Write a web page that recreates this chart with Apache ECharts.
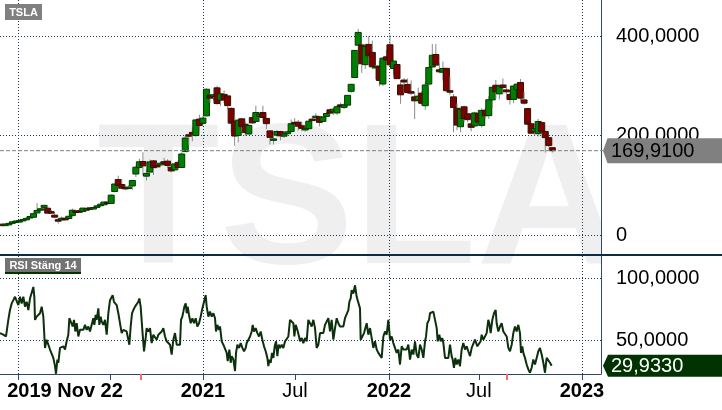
<!DOCTYPE html>
<html><head><meta charset="utf-8">
<script src="https://cdn.jsdelivr.net/npm/echarts@6/dist/echarts.min.js"></script>
<style>html,body{margin:0;padding:0;background:#fff}#c{width:722px;height:410px}</style>
</head><body><div id="c"></div>
<script>
const symbol = 'TSLA';
const rsiTitle = 'RSI Stäng 14';
// weekly candles, week 0 = week of 2019-11-25
const open = [
22.3,22.0,22.4,24.0,27.2,28.7,29.8,32.2,36.0,36.2,
44.9,51.2,56.0,54.3,47.4,40.4,31.3,31.0,34.0,33.7,
39.4,48.6,49.2,47.9,53.3,55.1,55.0,57.2,62.3,61.3,
66.6,64.0,88.0,111.9,102.0,96.2,96.2,99.0,123.0,136.0,
148.2,118.7,127.0,149.4,140.4,141.3,147.7,148.8,136.7,131.3,
146.5,136.2,168.0,201.9,206.7,200.3,233.3,224.8,239.8,281.3,
279.0,296.1,271.4,283.0,279.9,254.9,229.0,200.2,233.9,223.0,
203.4,236.3,228.6,238.6,246.5,234.8,209.6,191.1,201.0,208.2,
199.0,204.0,208.3,226.8,227.0,219.9,213.5,214.0,233.3,237.3,
237.8,228.7,238.8,252.0,248.0,245.7,261.9,256.8,261.4,289.1,
316.8,381.7,382.2,342.7,383.3,367.3,337.6,339.9,303.8,358.4,
382.6,335.0,342.9,301.9,311.7,303.0,288.4,278.0,271.3,285.4,
260.2,303.7,338.0,363.0,332.3,327.5,335.3,290.3,278.0,255.0,
218.0,258.0,244.0,223.8,219.6,244.0,220.6,251.0,240.3,272.0,
301.3,284.0,301.8,291.9,282.8,272.7,292.2,306.9,271.8,254.5,
223.9,208.3,204.0,226.2,208.6,195.9,175.9];
const high = [
23.0,22.7,24.2,27.5,29.0,30.3,33.2,35.1,39.4,43.5,
64.6,54.4,61.3,58.4,50.9,44.2,34.5,37.9,36.9,38.7,
53.8,51.2,53.7,55.1,55.4,55.8,57.0,60.2,66.7,67.6,
67.0,82.0,103.3,119.7,112.4,101.3,100.7,110.0,139.7,154.0,
166.7,133.0,152.0,151.0,146.0,148.3,155.3,152.5,143.0,144.8,
150.8,166.4,199.6,203.0,216.8,231.7,242.4,239.6,294.8,285.2,
283.3,300.1,293.5,291.0,283.0,256.6,240.4,233.3,234.6,228.9,
224.0,240.3,260.3,245.0,260.0,236.2,211.3,206.0,211.3,210.0,
207.0,210.2,232.5,235.3,231.7,228.0,219.0,233.3,240.0,244.9,
240.0,237.9,247.3,254.0,255.0,262.1,266.3,265.0,281.1,303.3,
371.7,414.5,382.3,384.3,400.6,390.9,342.0,350.3,357.7,372.3,
402.7,369.3,344.7,311.2,315.3,315.0,310.9,285.7,296.6,288.7,
308.7,338.0,384.3,384.3,345.8,349.0,335.9,318.5,283.6,265.0,
254.0,260.5,248.3,233.6,248.0,252.1,254.9,257.0,279.3,298.3,
311.9,302.2,314.7,303.0,287.7,299.9,305.5,313.8,288.5,255.2,
225.8,222.9,233.8,229.8,208.9,197.4,176.8];
const low = [
21.9,20.9,22.3,24.0,27.0,27.7,29.3,32.0,35.8,35.6,
44.5,48.2,53.7,43.7,43.7,34.1,23.4,28.8,30.0,33.1,
39.3,45.5,46.3,47.6,50.9,52.8,53.1,56.7,59.2,60.9,
62.8,63.6,86.3,95.1,92.4,90.4,93.2,91.1,117.0,133.9,
120.0,110.0,125.0,121.0,136.0,136.7,143.3,135.3,126.4,127.7,
132.3,136.0,167.5,180.4,188.8,198.0,210.0,221.3,239.1,266.0,
270.8,262.5,260.0,265.3,253.4,206.3,179.8,186.7,208.7,199.7,
202.1,223.3,228.3,227.3,226.8,213.1,182.3,182.3,198.0,190.9,
195.4,200.2,206.7,222.0,210.1,209.4,207.9,213.0,232.3,236.7,
218.6,228.4,237.2,241.0,241.8,241.4,253.0,253.4,259.0,286.2,
316.0,340.7,326.2,334.3,343.3,333.3,313.3,299.3,300.0,349.0,
340.0,322.3,314.0,264.0,285.3,284.2,281.7,233.3,266.0,260.7,
252.0,298.3,336.8,340.7,325.5,311.0,290.3,281.3,206.9,211.0,
206.9,226.7,227.0,208.7,215.5,222.7,216.3,233.6,233.9,255.7,
273.9,272.7,284.7,283.0,262.6,265.3,292.0,271.0,262.5,221.8,
203.0,202.0,198.6,203.0,166.2,176.6,166.2];
const close = [
22.0,22.4,23.9,27.0,28.7,29.5,31.9,34.0,37.7,43.4,
49.9,53.3,60.1,44.5,46.9,36.4,28.5,34.3,32.0,38.2,
50.3,48.3,46.8,54.6,53.3,54.5,55.7,59.0,62.4,66.7,
64.0,80.6,103.0,100.1,94.5,95.4,96.8,110.0,136.7,147.6,
139.4,124.2,147.4,135.8,138.4,144.7,146.6,140.2,129.3,143.3,
136.2,163.2,195.3,199.7,203.3,231.7,220.6,235.2,293.3,275.4,
282.2,264.5,284.1,272.0,260.4,225.2,199.3,231.2,218.3,206.2,
220.6,225.7,246.6,243.1,236.5,224.1,196.6,193.6,208.4,199.7,
203.3,207.8,224.0,226.3,219.0,214.7,214.5,229.1,233.0,239.1,
226.8,237.3,244.5,245.4,253.2,258.1,258.4,261.8,281.0,303.2,
371.3,407.4,344.5,379.0,360.6,338.3,339.0,310.9,355.7,352.3,
342.3,349.9,314.6,282.1,307.8,286.7,285.7,270.0,279.4,265.1,
301.8,336.9,361.5,341.8,328.3,335.0,290.3,288.6,256.5,221.3,
253.2,234.5,232.2,216.8,245.7,227.3,250.8,240.1,272.2,297.2,
288.2,300.0,296.7,288.1,272.7,299.7,303.4,275.3,265.3,223.1,
205.0,214.4,228.5,207.5,196.0,180.2,169.91];
// RSI(14): [week, value]
const rsiPoints = [
[0.00,56.1],[0.47,57.4],[0.94,54.8],[1.42,56.1],[1.70,53.4],[2.36,66.7],[2.83,74.6],[3.31,79.9],[3.78,82.5],[4.25,85.2],[4.72,86.5],[5.20,78.6],[5.67,85.2],[6.14,79.9],[6.61,85.2],[7.08,77.3],[7.56,81.2],[8.03,74.6],[8.50,83.9],[8.97,82.5],[9.45,93.1],[9.73,85.2],[9.92,66.7],[10.39,69.3],[10.86,68.0],[11.34,72.0],[11.81,77.3],[12.28,69.3],[12.75,44.2],[13.22,50.8],[13.70,52.1],[14.17,42.9],[14.64,44.2],[15.11,36.2],[15.59,29.6],[15.87,23.5],[16.25,34.9],[16.53,32.3],[17.00,44.2],[17.48,42.9],[17.95,45.5],[18.42,42.9],[18.89,49.5],[19.36,54.8],[19.65,68.0],[20.12,66.7],[20.59,61.4],[20.97,66.7],[21.35,57.4],[21.73,64.0],[22.20,53.4],[22.67,58.7],[23.14,60.1],[23.62,58.7],[24.09,62.7],[24.56,58.7],[25.03,61.4],[25.50,57.4],[25.98,62.7],[26.45,68.0],[26.73,62.7],[27.11,70.6],[27.39,66.7],[27.87,75.9],[28.15,62.7],[28.53,69.3],[28.81,65.3],[29.28,62.7],[29.75,66.7],[30.23,54.8],[30.70,72.0],[31.17,82.5],[31.64,83.9],[31.93,86.5],[32.30,81.2],[32.68,81.2],[33.06,78.6],[33.53,72.0],[34.01,72.0],[34.48,56.1],[34.95,58.7],[35.42,57.4],[35.89,57.4],[36.37,57.4],[36.65,46.8],[37.03,61.4],[37.41,72.0],[37.78,74.6],[38.26,77.3],[38.73,78.6],[39.20,81.2],[39.48,83.9],[39.86,77.3],[40.33,58.7],[40.81,41.5],[41.28,52.1],[41.56,60.1],[42.03,57.4],
[42.51,60.1],[42.98,48.1],[43.45,54.8],[43.93,53.4],[44.40,50.8],[44.87,54.8],[45.34,56.1],[45.82,57.4],[46.29,60.1],[46.76,53.4],[47.23,49.5],[47.71,49.5],[48.18,46.8],[48.65,38.9],[49.12,50.8],[49.59,56.1],[50.07,46.8],[50.54,46.8],[51.01,46.8],[51.29,66.7],[51.67,69.3],[51.96,73.3],[52.24,77.3],[52.62,79.9],[52.90,72.0],[53.18,77.3],[53.56,70.6],[54.03,64.0],[54.51,68.0],[54.98,64.0],[55.45,68.0],[55.92,61.4],[56.40,64.0],[56.87,69.3],[57.34,75.9],[57.81,74.6],[58.28,86.5],[58.57,77.3],[59.04,69.3],[59.51,73.3],[59.99,69.3],[60.46,72.0],[60.93,68.0],[61.21,57.4],[61.59,62.7],[62.06,58.7],[62.35,61.4],[62.82,49.5],[63.29,46.8],[63.76,48.1],[64.24,40.2],[64.52,33.6],[64.99,42.9],[65.37,32.3],[65.65,37.6],[66.13,34.9],[66.60,25.7],[66.88,40.2],[67.26,46.8],[67.73,44.2],[68.20,48.1],[68.68,44.2],[69.15,41.5],[69.62,44.2],[69.90,48.1],[70.38,50.8],[70.85,53.4],[71.32,57.4],[71.60,62.7],[71.98,57.4],[72.45,60.1],[72.93,56.1],[73.40,53.4],[73.87,57.4],[74.34,50.8],[74.81,45.5],[75.29,41.5],[75.76,36.2],[76.04,29.6],[76.33,34.9],[76.70,32.3],[77.08,40.2],[77.46,36.2],[77.84,45.5],[78.22,49.5],[78.59,37.6],[78.97,46.8],[79.35,44.2],[79.82,46.8],[80.29,44.2],[80.77,49.5],[81.24,50.8],[81.71,53.4],[82.18,66.7],[82.65,65.3],[83.13,64.0],[83.41,53.4],[83.79,62.7],[84.26,58.7],[84.73,53.4],
[85.01,49.5],[85.48,52.1],[85.95,48.1],[86.43,52.1],[86.90,49.5],[87.37,66.7],[87.84,68.0],[88.32,61.4],[88.79,66.7],[89.26,60.1],[89.73,44.2],[90.21,46.8],[90.68,56.1],[91.15,57.4],[91.62,56.1],[92.09,62.7],[92.57,64.0],[93.04,68.0],[93.51,57.4],[93.98,66.7],[94.46,50.8],[94.93,60.1],[95.40,68.0],[95.87,64.0],[96.35,61.4],[96.82,62.7],[97.29,61.4],[97.76,68.0],[98.23,69.3],[98.71,74.6],[98.99,81.2],[99.37,83.9],[99.65,90.5],[100.12,87.8],[100.60,94.4],[101.07,85.2],[101.54,86.5],[102.01,75.9],[102.20,50.8],[102.67,53.4],[103.15,56.1],[103.52,57.4],[103.90,64.0],[104.37,54.8],[104.85,60.1],[105.32,52.1],[105.79,44.2],[106.26,49.5],[106.74,42.9],[107.21,40.2],[107.68,38.9],[108.15,36.2],[108.63,53.4],[109.10,57.4],[109.57,54.8],[110.04,66.7],[110.52,50.8],[110.99,53.4],[111.46,48.1],[111.93,49.5],[112.40,40.2],[112.88,42.9],[113.35,30.9],[113.82,45.5],[114.29,42.9],[114.76,44.2],[115.24,42.9],[115.71,46.8],[116.18,34.9],[116.65,42.9],[117.13,38.9],[117.60,49.5],[118.07,38.9],[118.54,36.2],[119.02,46.8],[119.49,42.9],[119.96,36.2],[120.43,49.5],[120.72,53.4],[121.09,64.0],[121.57,66.7],[121.85,72.0],[122.32,70.6],[122.79,73.3],[123.27,66.7],[123.74,60.1],[124.02,49.5],[124.49,54.8],[124.87,49.5],[125.34,52.1],[125.63,48.1],[126.10,36.2],[126.57,37.6],[127.04,36.2],
[127.51,46.8],[127.98,37.6],[128.27,34.9],[128.64,28.3],[129.02,36.2],[129.40,30.9],[129.87,34.9],[130.34,29.6],[130.82,42.9],[131.29,48.1],[131.76,42.9],[132.23,45.5],[132.71,41.5],[133.18,37.6],[133.65,44.2],[134.12,42.9],[134.59,50.8],[134.88,52.1],[135.26,45.5],[135.73,44.2],[136.20,49.5],[136.48,54.8],[136.96,50.8],[137.43,49.5],[137.90,56.1],[138.37,66.7],[138.66,64.0],[139.03,56.1],[139.51,66.7],[139.98,72.0],[140.45,74.6],[140.73,64.0],[141.21,57.4],[141.68,61.4],[142.15,64.0],[142.62,57.4],[143.10,58.7],[143.57,53.4],[144.04,44.2],[144.51,41.5],[144.99,46.8],[145.46,56.1],[145.93,61.4],[146.40,57.4],[146.87,62.7],[147.35,56.1],[147.63,40.2],[148.01,45.5],[148.29,40.2],[148.76,36.2],[149.24,30.9],[149.71,27.0],[150.18,24.3],[150.65,28.3],[151.13,34.9],[151.60,30.9],[152.07,36.2],[152.54,41.5],[153.01,44.2],[153.49,38.9],[153.96,32.3],[154.43,24.3],[154.90,36.2],[155.37,37.6],[155.85,32.3],[156.32,29.933]];
const priceTicks = [0, 200, 400];
const rsiTicks = [50, 100];
const tickWeeks = [5.1, 31.2, 57.5, 83.6, 110.2, 135.7, 164.9];
const tickLabels = ['2019 Nov 22', '', '2021', 'Jul', '2022', 'Jul', '2023'];
const gridWeeks = [5.1, 57.5, 110.2, 164.9];
const splitWeeks = [40.0, 143.6];

const X_MAX = 170.3;
const FONT = '"Liberation Sans", Arial, sans-serif';
const NAVY = '#2b4a6b';
const fmt = v => v === 0 ? '0' : v.toFixed(4).replace('.', ',');
const candles = close.map((c, i) => [i + 0.5, open[i], c, low[i], high[i]]);
const lastClose = close[close.length - 1];
const lastRsi = rsiPoints[rsiPoints.length - 1][1];

const gridLine = {show: true, lineStyle: {color: '#1d3a57', type: [1, 2], width: 1}};

function renderCandle(params, api) {
  const x = api.value(0), o = api.value(1), c = api.value(2), l = api.value(3), h = api.value(4);
  const pO = api.coord([x, o]), pC = api.coord([x, c]), pL = api.coord([x, l]), pH = api.coord([x, h]);
  const w = 6;
  const up = c >= o;
  const top = Math.min(pO[1], pC[1]), bot = Math.max(pO[1], pC[1]);
  return {type: 'group', children: [
    {type: 'line', shape: {x1: pH[0], y1: pH[1], x2: pL[0], y2: pL[1]}, style: {stroke: '#8a8a8a', lineWidth: 1}},
    {type: 'rect', shape: {x: pO[0] - w / 2, y: top, width: w, height: Math.max(bot - top, 1.5)},
     style: {fill: up ? '#008000' : '#800000', stroke: up ? '#003800' : '#2e1200', lineWidth: 1}}
  ]};
}

const chart = echarts.init(document.getElementById('c'), null, {renderer: 'canvas'});
const option = {
  animation: false,
  backgroundColor: '#fff',
  grid: [
    {left: 0, top: 0, width: 601, height: 254, outerBoundsMode: 'none', containLabel: false},
    {left: 0, top: 256, width: 601, height: 118, outerBoundsMode: 'none', containLabel: false}
  ],
  xAxis: [
    {gridIndex: 0, type: 'value', min: 0, max: X_MAX, axisLine: {show: false, onZero: false},
     axisTick: {show: false, customValues: gridWeeks}, axisLabel: {show: false}, splitLine: gridLine},
    {gridIndex: 1, type: 'value', min: 0, max: X_MAX, position: 'bottom',
     axisLine: {show: true, onZero: false, lineStyle: {color: NAVY}},
     axisTick: {show: true, customValues: tickWeeks, length: 6, lineStyle: {color: NAVY}},
     axisLabel: {show: true, customValues: tickWeeks, margin: 7,
       formatter: v => {
         const i = tickWeeks.findIndex(t => Math.abs(t - v) < 1e-6);
         const s = i >= 0 ? tickLabels[i] : '';
         if (!s) return '';
         if (i === 0) return '{f|' + s + '}';
         return /^\d/.test(s) ? '{y|' + s + '}' : '{m|' + s + '}';
       },
       rich: {
         y: {fontFamily: FONT, fontSize: 20, fontWeight: 'bold', color: '#000'},
         m: {fontFamily: FONT, fontSize: 20, color: '#000'},
         f: {fontFamily: FONT, fontSize: 20, fontWeight: 'bold', color: '#000', padding: [0, 0, 0, 94]}
       }},
     splitLine: {show: false}},
    {gridIndex: 1, type: 'value', min: 0, max: X_MAX, position: 'bottom', axisLine: {show: false, onZero: false},
     axisTick: {show: false, customValues: gridWeeks}, axisLabel: {show: false}, splitLine: gridLine},
    {gridIndex: 1, type: 'value', min: 0, max: X_MAX, position: 'bottom', axisLine: {show: false, onZero: false},
     axisTick: {show: true, customValues: splitWeeks, length: 6, lineStyle: {color: '#ff6666', width: 2}},
     axisLabel: {show: false}, splitLine: {show: false}}
  ],
  yAxis: [
    {gridIndex: 0, type: 'value', position: 'right', min: -37.6, max: 472.5,
     axisLine: {show: true, onZero: false, lineStyle: {color: NAVY}},
     axisTick: {show: false, customValues: priceTicks},
     axisLabel: {customValues: priceTicks, formatter: fmt, color: '#000', fontFamily: FONT, fontSize: 20, margin: 15},
     splitLine: gridLine},
    {gridIndex: 1, type: 'value', position: 'right', min: 23.3, max: 117.9,
     axisLine: {show: true, onZero: false, lineStyle: {color: NAVY}},
     axisTick: {show: false, customValues: rsiTicks},
     axisLabel: {customValues: rsiTicks, formatter: fmt, color: '#000', fontFamily: FONT, fontSize: 20, margin: 15},
     splitLine: gridLine}
  ],
  series: [
    {type: 'custom', name: symbol, xAxisIndex: 0, yAxisIndex: 0, data: candles, clip: true,
     renderItem: renderCandle, encode: {x: 0, y: [1, 2, 3, 4]}},
    {type: 'line', name: rsiTitle, xAxisIndex: 1, yAxisIndex: 1, data: rsiPoints, symbol: 'none', showSymbol: false,
     clip: true, lineStyle: {color: '#0b300b', width: 2}}
  ]
};
chart.setOption(option);

const py = chart.convertToPixel({yAxisIndex: 0}, lastClose);
const ry = chart.convertToPixel({yAxisIndex: 1}, lastRsi);
const tagFont = {fontFamily: FONT, fontSize: 20};
chart.setOption({graphic: [
  {type: 'text', z: -10, x: 97, y: 208, silent: true,
   style: {text: symbol, fontFamily: FONT, fontWeight: 'bold', fontSize: 201, fill: '#efefef', align: 'left', verticalAlign: 'middle'}},
  {type: 'rect', z: -5, shape: {x: 602, y: 0, width: 120, height: 300}, style: {fill: '#fff'}},
  {type: 'line', z: 50, shape: {x1: 0, y1: 255, x2: 722, y2: 255}, style: {stroke: '#0f2b40', lineWidth: 2}},
  {type: 'rect', z: 50, shape: {x: 5, y: 4, width: 37, height: 16}, style: {fill: '#808080'}},
  {type: 'text', z: 51, x: 23.5, y: 12.5,
   style: {text: symbol, fontFamily: FONT, fontWeight: 'bold', fontSize: 11, fill: '#fff', align: 'center', verticalAlign: 'middle'}},
  {type: 'rect', z: 50, shape: {x: 5, y: 258, width: 76, height: 16}, style: {fill: '#737373'}},
  {type: 'rect', z: 51, shape: {x: 5, y: 272, width: 76, height: 2}, style: {fill: '#003300'}},
  {type: 'text', z: 52, x: 43, y: 265.5,
   style: {text: rsiTitle, fontFamily: FONT, fontWeight: 'bold', fontSize: 11, fill: '#fff', align: 'center', verticalAlign: 'middle'}},
  {type: 'line', z: 40, shape: {x1: 0, y1: py, x2: 603, y2: py}, style: {stroke: '#808080', lineWidth: 1, lineDash: [4, 2]}},
  {type: 'polygon', z: 55, shape: {points: [[603, py], [607.5, py - 12.5], [722, py - 12.5], [722, py + 12.5], [607.5, py + 12.5]]},
   style: {fill: '#808080'}},
  {type: 'text', z: 56, x: 611, y: py + 1,
   style: Object.assign({text: fmt(lastClose), fill: '#000', align: 'left', verticalAlign: 'middle'}, tagFont)},
  {type: 'polygon', z: 55, shape: {points: [[603, ry], [608, ry - 11], [722, ry - 11], [722, ry + 11], [608, ry + 11]]},
   style: {fill: '#003300'}},
  {type: 'text', z: 56, x: 611, y: ry + 1,
   style: Object.assign({text: fmt(lastRsi), fill: '#fff', align: 'left', verticalAlign: 'middle'}, tagFont)}
]});
</script></body></html>
